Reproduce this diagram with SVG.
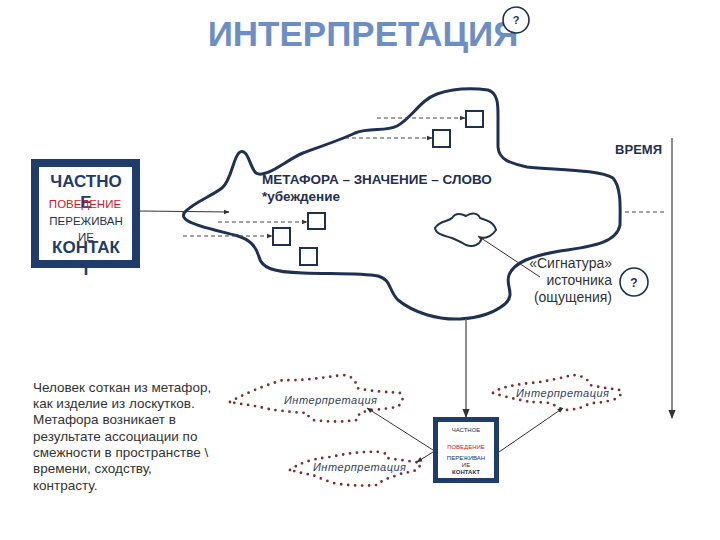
<svg xmlns="http://www.w3.org/2000/svg" width="720" height="540" viewBox="0 0 720 540">
<style>
.ttl{font-family:"Liberation Sans",Arial,sans-serif;font-weight:bold;font-size:35px;fill:#6C8EC4}
.b{font-family:"Liberation Sans",Arial,sans-serif;font-weight:bold;fill:#1F3050}
.n{font-family:"Liberation Sans",Arial,sans-serif;fill:#333}
.nv{fill:#1F3C6B}
.red{fill:#D0202A}
.it{font-family:"Liberation Sans",Arial,sans-serif;font-style:italic;font-size:11px;fill:#2F4060;letter-spacing:0.5px}
.sq{fill:#fff;stroke:#1F3050;stroke-width:2}
.dash{stroke:#444;stroke-width:1;stroke-dasharray:4 3;fill:none}
.ln{stroke:#333;stroke-width:1;fill:none}
.dot{fill:none;stroke:#7A2E3A;stroke-width:2.8;stroke-linecap:round;stroke-dasharray:0 7}
.q{fill:#fff;stroke:#1F3050;stroke-width:1.6}
</style>
<defs>
<marker id="ah" viewBox="0 0 10 10" refX="9" refY="5" markerWidth="6" markerHeight="6" orient="auto"><path d="M0,1 L10,5 L0,9 z" fill="#333"/></marker>
</defs>
<rect width="720" height="540" fill="#fff"/>

<g id="title">
<text class="ttl" x="363" y="46" text-anchor="middle">ИНТЕРПРЕТАЦИЯ</text>
<circle class="q" cx="516" cy="20" r="13"/>
<text class="b" x="516" y="24" font-size="11" text-anchor="middle">?</text>
</g>

<g id="blob">
<path d="M184,213 C192,203 212,196 222,188 C232,180 233,156 240,152 C248,148 250,168 256,173 C266,179 286,160 303,153 C322,146 340,140 355,133 C370,127 385,132 397,126 C412,118 420,100 437,94 C452,89 472,88 488,90 C498,93 498,105 498,115 L498,147 C499,160 510,163 527,167 C560,170 600,170 613,178 C622,188 620,212 620,225 C617,241 598,246 560,251 C532,256 514,262 509,275 C505,286 516,294 505,304 C494,313 478,318 460,319 C438,320 414,313 398,300 C388,290 392,280 378,276 C362,273 330,274 303,273 C272,272 262,268 259,257 C256,246 250,240 238,236 C220,231 198,227 188,221 C183,218 183,216 184,213 Z" fill="none" stroke="#1F3050" stroke-width="3"/>
<path d="M435,228 C440,220 448,222 452,218 C456,212 462,214 466,216 C472,212 478,213 480,218 C486,220 494,222 496,230 C492,236 486,238 482,238 C480,244 474,248 466,245 C460,241 456,240 452,238 C446,236 436,235 435,228 Z" fill="none" stroke="#1F3050" stroke-width="2"/>
</g>

<g id="blob-text">
<text class="b" x="262" y="184" font-size="13.5">МЕТАФОРА – ЗНАЧЕНИЕ – СЛОВО</text>
<text class="b" x="262" y="201" font-size="13.5">*убеждение</text>
</g>

<g id="squares">
<rect class="sq" x="466" y="111" width="17" height="16"/>
<rect class="sq" x="433" y="130" width="17" height="17"/>
<rect class="sq" x="308" y="213" width="17" height="16"/>
<rect class="sq" x="273" y="228" width="17" height="17"/>
<rect class="sq" x="300" y="248" width="17" height="17"/>
</g>

<g id="left-box">
<rect x="31" y="159" width="109" height="109" class="nv"/>
<rect x="39" y="167" width="93" height="93" fill="#fff"/>
<text class="b" x="86" y="187" font-size="17" text-anchor="middle" style="fill:#1F3C6B">ЧАСТНО</text>
<text class="b" x="86" y="208" font-size="17" text-anchor="middle" style="fill:#1F3C6B">Е</text>
<text x="85" y="208" font-size="11.5" text-anchor="middle" font-family="Liberation Sans,Arial,sans-serif" class="red">ПОВЕДЕНИЕ</text>
<text x="86" y="225" font-size="11.5" text-anchor="middle" font-family="Liberation Sans,Arial,sans-serif" fill="#1F3050">ПЕРЕЖИВАН</text>
<text x="86" y="241" font-size="11.5" text-anchor="middle" font-family="Liberation Sans,Arial,sans-serif" fill="#1F3050">ИЕ</text>
<text class="b" x="86" y="253" font-size="17" text-anchor="middle" style="fill:#1F3C6B">КОНТАК</text>
<text class="b" x="86" y="275" font-size="17" text-anchor="middle" style="fill:#1F3C6B">Т</text>
<rect x="35" y="163" width="101" height="101" fill="none" stroke="#1F3C6B" stroke-width="8"/>
</g>

<g id="signature-label">
<text class="n" x="612" y="268" font-size="14" text-anchor="end">«Сигнатура»</text>
<text class="n" x="612" y="285" font-size="14" text-anchor="end">источника</text>
<text class="n" x="612" y="302" font-size="14" text-anchor="end">(ощущения)</text>
<circle class="q" cx="634" cy="282" r="14"/>
<text class="b" x="634" y="287" font-size="12" text-anchor="middle">?</text>
</g>

<g id="time">
<text class="b" x="662" y="154" font-size="13" text-anchor="end">ВРЕМЯ</text>
</g>

<g id="note">
<text class="n" font-size="13.5">
<tspan x="33" y="392">Человек соткан из метафор,</tspan>
<tspan x="33" y="408">как изделие из лоскутков.</tspan>
<tspan x="33" y="424">Метафора возникает в</tspan>
<tspan x="33" y="441">результате ассоциации по</tspan>
<tspan x="33" y="457">смежности в пространстве \</tspan>
<tspan x="33" y="473">времени, сходству,</tspan>
<tspan x="33" y="490">контрасту.</tspan>
</text>
</g>

<g id="small-box">
<rect x="433" y="417" width="66" height="66" class="nv"/>
<rect x="438" y="422" width="56" height="56" fill="#fff"/>
<text x="466" y="432" font-size="6" text-anchor="middle" font-family="Liberation Sans,Arial,sans-serif" fill="#1F3050">ЧАСТНОЕ</text>
<text x="466" y="449" font-size="6" text-anchor="middle" font-family="Liberation Sans,Arial,sans-serif" class="red">ПОВЕДЕНИЕ</text>
<text x="466" y="460" font-size="6" text-anchor="middle" font-family="Liberation Sans,Arial,sans-serif" fill="#1F3050">ПЕРЕЖИВАН</text>
<text x="466" y="467" font-size="6" text-anchor="middle" font-family="Liberation Sans,Arial,sans-serif" fill="#1F3050">ИЕ</text>
<text x="466" y="474" font-size="6" text-anchor="middle" font-family="Liberation Sans,Arial,sans-serif" font-weight="bold" fill="#1F3050">КОНТАКТ</text>
</g>

<g id="cloud1">
<path class="dot" d="M230,402 C240,396 262,386 283,380 C300,381 320,378 343,375 C352,376 356,380 357,388 C372,392 392,392 400,393 C405,397 402,404 397,407 C385,409 368,410 360,413 C358,416 358,419 357,420 C345,422 328,422 313,420 C309,418 308,415 307,413 C290,412 270,410 260,407 C250,405 240,404 230,402 Z"/>
<text class="it" x="284" y="404">Интерпретация</text>
</g>
<g id="cloud2">
<path class="dot" d="M290,470 C298,464 310,459 330,457 C345,454 360,451 383,452 C386,454 387,456 387,458 C398,460 412,461 420,463 C420,466 419,469 417,470 C410,472 405,473 403,473 C395,476 386,479 383,480 C380,483 378,485 377,485 C365,486 350,486 333,483 C322,479 315,476 313,475 C305,474 298,472 290,470 Z"/>
<text class="it" x="313" y="471">Интерпретация</text>
</g>
<g id="cloud3">
<path class="dot" d="M493,393 C498,389 505,386 530,383 C545,382 560,378 573,375 C582,376 588,378 590,385 C598,387 612,389 620,390 C624,392 620,397 613,400 C604,402 598,403 593,403 C585,405 582,407 580,408 C572,410 566,410 563,410 C556,406 552,404 550,403 C540,402 530,402 530,402 C520,400 505,397 493,393 Z"/>
<text class="it" x="516" y="397">Интерпретация</text>
</g>

<g id="connectors">
<line class="ln" x1="140" y1="211" x2="229" y2="212" marker-end="url(#ah)"/>
<line class="dash" x1="218" y1="222" x2="307" y2="222" marker-end="url(#ah)"/>
<line class="dash" x1="183" y1="236" x2="272" y2="236" marker-end="url(#ah)"/>
<line class="dash" x1="377" y1="118" x2="465" y2="118" marker-end="url(#ah)"/>
<line class="dash" x1="345" y1="138" x2="432" y2="138" marker-end="url(#ah)"/>
<line class="ln" x1="540" y1="277" x2="478" y2="236" marker-end="url(#ah)"/>
<line x1="672" y1="138" x2="672" y2="418" stroke="#666" stroke-width="1.5" marker-end="url(#ah)"/>
<line class="dash" x1="625" y1="212" x2="665" y2="212"/>
<line x1="466" y1="319" x2="466" y2="417" stroke="#666" stroke-width="1.5" marker-end="url(#ah)"/>
<line class="ln" x1="433" y1="450" x2="367" y2="408" marker-end="url(#ah)"/>
<line class="ln" x1="433" y1="452" x2="417" y2="462" marker-end="url(#ah)"/>
<line class="ln" x1="499" y1="452" x2="563" y2="408" marker-end="url(#ah)"/>
</g>
</svg>
